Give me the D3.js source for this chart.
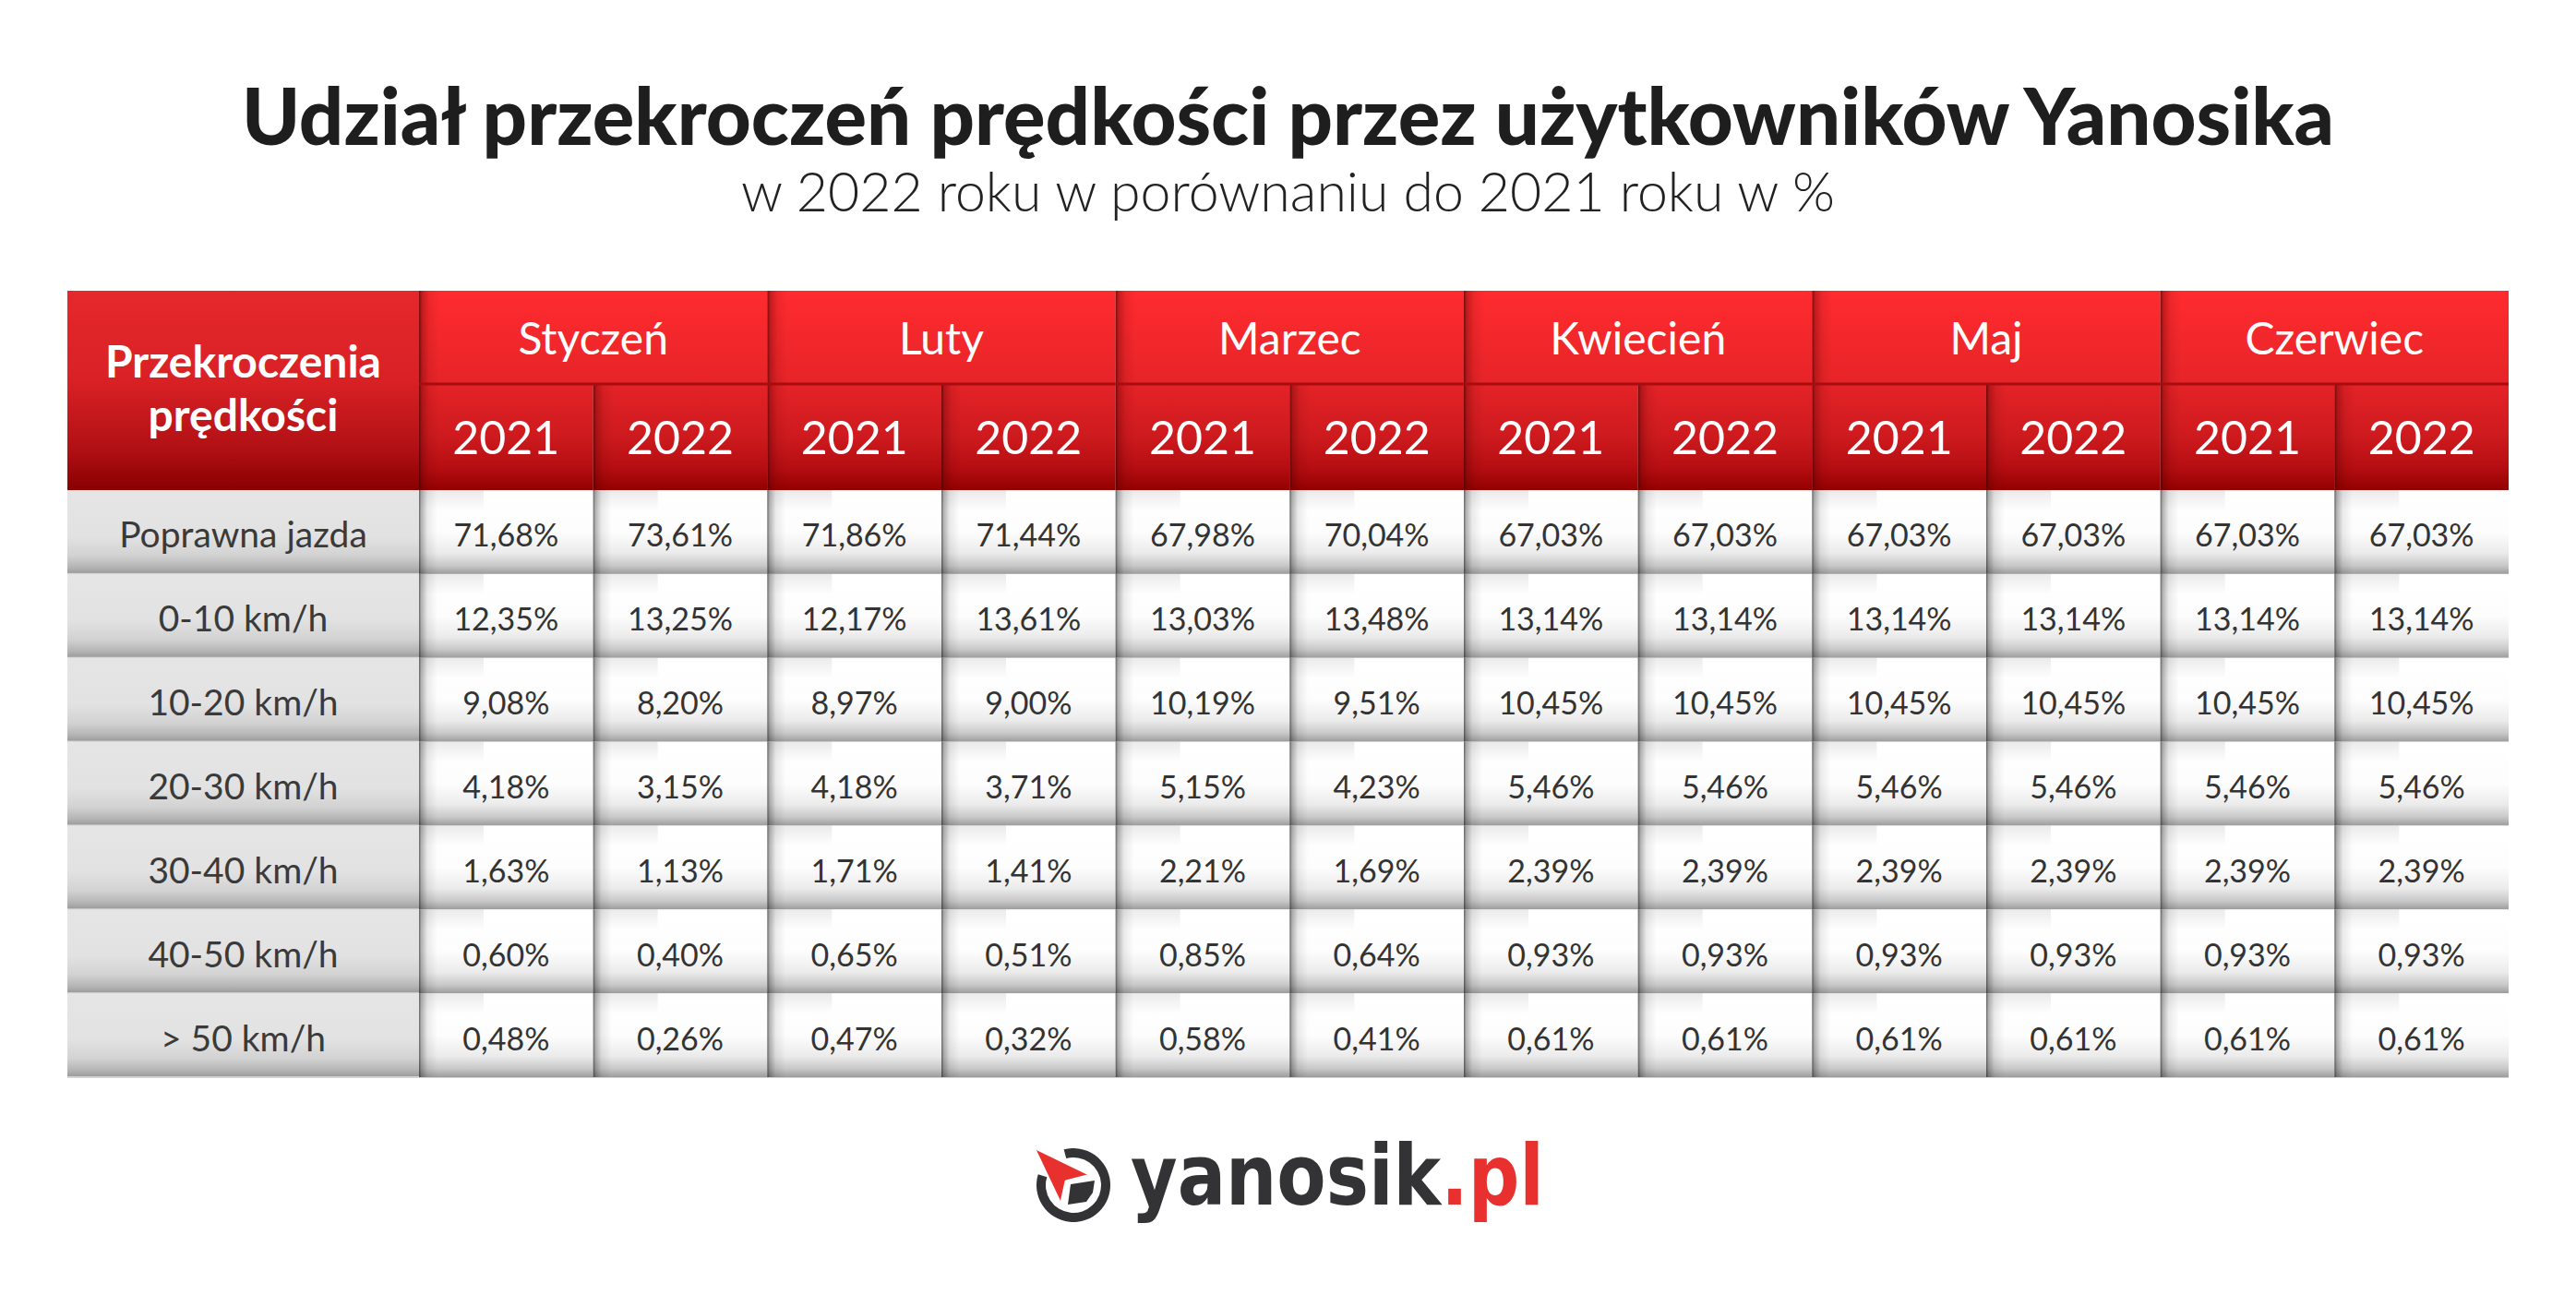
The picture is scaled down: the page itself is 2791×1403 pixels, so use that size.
<!DOCTYPE html>
<html>
<head>
<meta charset="utf-8">
<script src="https://cdn.jsdelivr.net/npm/d3@7"></script>
<style>
  body { margin: 0; background: #fff; }
  svg { display: block; font-family: Lato, "Open Sans", sans-serif; }
</style>
</head>
<body>
<div id="chart"></div>
<script>
// data
const months = ["Styczeń", "Luty", "Marzec", "Kwiecień", "Maj", "Czerwiec"];
const years = ["2021", "2022"];
const rowLabels = ["Poprawna jazda", "0-10 km/h", "10-20 km/h", "20-30 km/h", "30-40 km/h", "40-50 km/h", "> 50 km/h"];

const styczen2021 = [71.68, 12.35, 9.08, 4.18, 1.63, 0.60, 0.48];
const styczen2022 = [73.61, 13.25, 8.20, 3.15, 1.13, 0.40, 0.26];
const luty2021 = [71.86, 12.17, 8.97, 4.18, 1.71, 0.65, 0.47];
const luty2022 = [71.44, 13.61, 9.00, 3.71, 1.41, 0.51, 0.32];
const marzec2021 = [67.98, 13.03, 10.19, 5.15, 2.21, 0.85, 0.58];
const marzec2022 = [70.04, 13.48, 9.51, 4.23, 1.69, 0.64, 0.41];
const kwiecien2021 = [67.03, 13.14, 10.45, 5.46, 2.39, 0.93, 0.61];
const kwiecien2022 = [67.03, 13.14, 10.45, 5.46, 2.39, 0.93, 0.61];
const maj2021 = [67.03, 13.14, 10.45, 5.46, 2.39, 0.93, 0.61];
const maj2022 = [67.03, 13.14, 10.45, 5.46, 2.39, 0.93, 0.61];
const czerwiec2021 = [67.03, 13.14, 10.45, 5.46, 2.39, 0.93, 0.61];
const czerwiec2022 = [67.03, 13.14, 10.45, 5.46, 2.39, 0.93, 0.61];

const seriesByMonth = [
  [styczen2021, styczen2022],
  [luty2021, luty2022],
  [marzec2021, marzec2022],
  [kwiecien2021, kwiecien2022],
  [maj2021, maj2022],
  [czerwiec2021, czerwiec2022]
];

const W = 2791, H = 1403;
const left = 73, labelRight = 454, right = 2718;
const headTop = 315, headMid = 416, headBottom = 531, tableBottom = 1167;

const svg = d3.select("#chart").append("svg")
  .attr("width", W)
  .attr("height", H);

svg.append("rect").attr("width", W).attr("height", H).attr("fill", "#fff");

const defs = svg.append("defs");

function vGrad(id, stops) {
  const g = defs.append("linearGradient").attr("id", id)
    .attr("x1", 0).attr("y1", 0).attr("x2", 0).attr("y2", 1);
  stops.forEach(s => g.append("stop").attr("offset", s[0]).attr("stop-color", s[1]).attr("stop-opacity", s[2] == null ? 1 : s[2]));
}
function hGrad(id, stops) {
  const g = defs.append("linearGradient").attr("id", id)
    .attr("x1", 0).attr("y1", 0).attr("x2", 1).attr("y2", 0);
  stops.forEach(s => g.append("stop").attr("offset", s[0]).attr("stop-color", s[1]).attr("stop-opacity", s[2] == null ? 1 : s[2]));
}

vGrad("gLabelHead", [[0, "#e5282c"], [0.45, "#d92125"], [0.8, "#b01014"], [1, "#880000"]]);
vGrad("gMonth", [[0, "#ff2b2f"], [1, "#e62428"]]);
vGrad("gYear", [[0, "#e42327"], [0.5, "#cd1a1e"], [0.8, "#b40d11"], [1, "#930000"]]);
vGrad("gCell", [[0, "#ffffff"], [0.5, "#fdfdfd"], [0.75, "#ebebeb"], [0.9, "#c8c8c8"], [1, "#9c9c9c"]]);
vGrad("gLabel", [[0, "#e5e5e5"], [0.55, "#e2e2e2"], [0.78, "#d2d2d2"], [0.92, "#b4b4b4"], [1, "#989898"]]);
hGrad("gShadow", [[0, "#000", 0.6], [0.12, "#000", 0.3], [0.45, "#000", 0.08], [1, "#000", 0]]);
hGrad("gShadowRed", [[0, "#3a0000", 0.7], [0.15, "#5a0000", 0.35], [0.5, "#600000", 0.1], [1, "#600000", 0]]);
vGrad("gTopShade", [[0, "#000", 0.1], [1, "#000", 0]]);

// scales
const monthX = d3.scaleBand().domain(months).range([labelRight, right]);
const yearX = d3.scaleBand().domain(years).range([0, monthX.bandwidth()]);
const rowY = d3.scaleBand().domain(rowLabels).range([headBottom, tableBottom]);

// title
svg.append("text")
  .attr("x", W / 2).attr("y", 157)
  .attr("text-anchor", "middle")
  .attr("font-size", 85).attr("font-weight", 900)
  .attr("fill", "#1e1e1e")
  .text("Udział przekroczeń prędkości przez użytkowników Yanosika");

svg.append("text")
  .attr("x", W / 2).attr("y", 229)
  .attr("text-anchor", "middle")
  .attr("font-size", 59).attr("font-weight", 300)
  .attr("fill", "#222")
  .text("w 2022 roku w porównaniu do 2021 roku w %");

// header: label cell
const head = svg.append("g");
head.append("rect")
  .attr("x", left).attr("y", headTop)
  .attr("width", labelRight - left).attr("height", headBottom - headTop)
  .attr("fill", "url(#gLabelHead)");
head.append("text")
  .attr("x", (left + labelRight) / 2).attr("text-anchor", "middle")
  .attr("font-size", 48).attr("font-weight", 700).attr("fill", "#fff")
  .selectAll("tspan").data(["Przekroczenia", "prędkości"]).join("tspan")
  .attr("x", (left + labelRight) / 2)
  .attr("y", (d, i) => 409 + i * 58)
  .text(d => d);

// header: months
const monthG = head.selectAll("g.month").data(months).join("g")
  .attr("class", "month")
  .attr("transform", d => `translate(${monthX(d)},0)`);

monthG.append("rect")
  .attr("y", headTop).attr("width", monthX.bandwidth()).attr("height", headMid - headTop)
  .attr("fill", "url(#gMonth)");
monthG.append("text")
  .attr("x", monthX.bandwidth() / 2).attr("y", 384)
  .attr("text-anchor", "middle").attr("font-size", 48).attr("fill", "#fff")
  .text(d => d);

const yearG = monthG.selectAll("g.year").data(years).join("g")
  .attr("class", "year")
  .attr("transform", d => `translate(${yearX(d)},0)`);
yearG.append("rect")
  .attr("y", headMid).attr("width", yearX.bandwidth()).attr("height", headBottom - headMid)
  .attr("fill", "url(#gYear)");
yearG.append("rect")
  .attr("y", headMid).attr("width", 22).attr("height", headBottom - headMid)
  .attr("fill", "url(#gShadowRed)");
yearG.append("text")
  .attr("x", yearX.bandwidth() / 2).attr("y", 492)
  .attr("text-anchor", "middle").attr("font-size", 50).attr("fill", "#fff")
  .text(d => d);

monthG.append("rect")
  .attr("y", headTop).attr("width", 22).attr("height", headMid - headTop)
  .attr("fill", "url(#gShadowRed)");
monthG.append("rect")
  .attr("y", headMid - 1.5).attr("width", monthX.bandwidth()).attr("height", 3)
  .attr("fill", "#a80c0f");

// body: labels
const body = svg.append("g");
const rowG = body.selectAll("g.row").data(rowLabels).join("g")
  .attr("class", "row")
  .attr("transform", d => `translate(0,${rowY(d)})`);

rowG.append("rect")
  .attr("x", left).attr("width", labelRight - left).attr("height", rowY.bandwidth())
  .attr("fill", "url(#gLabel)");
rowG.append("text")
  .attr("x", (left + labelRight) / 2).attr("y", rowY.bandwidth() / 2 + 17)
  .attr("text-anchor", "middle").attr("font-size", 39).attr("fill", "#3a3a3a")
  .text(d => d);

// body: value cells
const cells = [];
months.forEach((m, mi) => {
  years.forEach((y, yi) => {
    seriesByMonth[mi][yi].forEach((v, ri) => {
      cells.push({ month: m, year: y, row: rowLabels[ri], value: v });
    });
  });
});

const fmt = v => d3.format(".2f")(v).replace(".", ",") + "%";

const cellG = body.selectAll("g.cell").data(cells).join("g")
  .attr("class", "cell")
  .attr("transform", d => `translate(${monthX(d.month) + yearX(d.year)},${rowY(d.row)})`);

cellG.append("rect")
  .attr("width", yearX.bandwidth()).attr("height", rowY.bandwidth())
  .attr("fill", "url(#gCell)");
cellG.append("rect")
  .attr("width", 70).attr("height", 22)
  .attr("fill", "url(#gTopShade)")
  .attr("opacity", 0.8);
cellG.append("rect")
  .attr("width", 20).attr("height", rowY.bandwidth())
  .attr("fill", "url(#gShadow)");
cellG.append("text")
  .attr("x", yearX.bandwidth() / 2).attr("y", rowY.bandwidth() / 2 + 16)
  .attr("text-anchor", "middle").attr("font-size", 34).attr("fill", "#333")
  .text(d => fmt(d.value));

// row separators
rowG.append("rect")
  .attr("x", left).attr("y", rowY.bandwidth() - 1)
  .attr("width", right - left).attr("height", 2)
  .attr("fill", "#d4d4d4");

// logo
const logo = svg.append("g");
const cx = 1163, cy = 1284;
logo.append("path")
  .attr("transform", `translate(${cx},${cy})`)
  .attr("d", d3.arc()({
    innerRadius: 30, outerRadius: 40,
    startAngle: -15 * Math.PI / 180, endAngle: 287 * Math.PI / 180
  }))
  .attr("fill", "#333336");
logo.append("path")
  .attr("d", d3.line()([[1160, 1283], [1186, 1279], [1184, 1292], [1177, 1302], [1157, 1305]]))
  .attr("fill", "#333336");
logo.append("path")
  .attr("d", d3.line()([[1122, 1244], [1182, 1273], [1155, 1280], [1150, 1303]]))
  .attr("fill", "#e8302f")
  .attr("stroke", "#fff").attr("stroke-width", 3).attr("stroke-linejoin", "round");

const brand = logo.append("text")
  .attr("x", 1225).attr("y", 1305)
  .attr("font-family", "'DejaVu Sans', sans-serif").attr("font-weight", 700)
  .attr("font-size", 90).attr("fill", "#333336")
  .attr("textLength", 448).attr("lengthAdjust", "spacingAndGlyphs");
brand.append("tspan").text("yanosik");
brand.append("tspan").attr("fill", "#e8302f").text(".pl");
</script>
</body>
</html>
